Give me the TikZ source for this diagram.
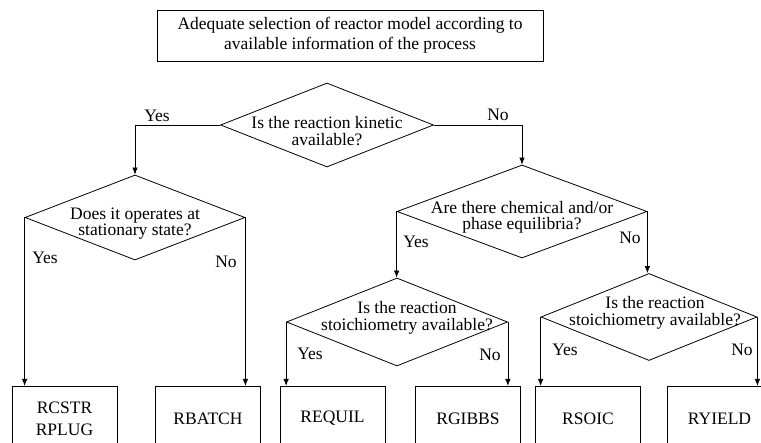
\documentclass[tikz,border=0pt]{standalone}
\usepackage{fontspec}
\setmainfont{Liberation Serif}
\usetikzlibrary{shapes.geometric,arrows.meta}
\begin{document}
\begin{tikzpicture}[x=1pt,y=-1pt,
  every node/.style={font=\fontsize{17.5}{21}\selectfont, text=black},
  topbox/.style={draw, line width=0.8pt, minimum width=386pt, minimum height=51pt, inner sep=0pt, align=center, font=\fontsize{17.5}{20}\selectfont},
  rbox/.style={draw, line width=0.8pt, minimum width=105pt, minimum height=64pt, anchor=north, inner sep=0pt, align=center, font=\fontsize{17.5}{22}\selectfont},
  dia/.style={draw, diamond, line width=0.8pt, inner sep=0pt},
  dtxt/.style={font=\fontsize{17.5}{16.5}\selectfont, align=center, inner sep=0pt},
  arr/.style={line width=0.8pt, -{Latex[length=7pt,width=5.5pt]}},
  lab/.style={inner sep=0pt}]
\useasboundingbox (0,0) rectangle (761,443);
\clip (0,0) rectangle (761,443);
\fill[white] (0,0) rectangle (761,443);

% title box
\node[topbox] (top) at (350,35.5) {Adequate selection of reactor model according to\\available information of the\ process};

% diamonds
\node[dia, minimum width=213pt, minimum height=84pt,
  label={[dtxt,yshift=-6pt]center:Is the reaction kinetic\\available?}] (d1) at (327,125) {};
\node[dia, minimum width=220pt, minimum height=85pt,
  label={[dtxt,yshift=-6pt]center:Does it operates at\\stationary state?}] (d2) at (135,217.5) {};
\node[dia, minimum width=250pt, minimum height=93pt,
  label={[dtxt,yshift=-6pt]center:Are there chemical and/or\\phase equilibria?}] (d3) at (522,211.5) {};
\node[dia, minimum width=221pt, minimum height=88pt,
  label={[dtxt,yshift=4pt,xshift=10pt]center:Is the reaction\\stoichiometry available?}] (d4) at (397,322) {};
\node[dia, minimum width=216pt, minimum height=87pt,
  label={[dtxt,yshift=4pt,xshift=6pt]center:Is the reaction\\stoichiometry available?}] (d5) at (649,317) {};

% result boxes
\node[rbox] (b1) at (64.5,386) {RCSTR\\RPLUG};
\node[rbox] (b2) at (208,386) {RBATCH};
\node[rbox] (b3) at (332.5,386) {REQUIL};
\node[rbox] (b4) at (468,386) {RGIBBS};
\node[rbox] (b5) at (588,386) {RSOIC};
\node[rbox] (b6) at (719.5,386) {RYIELD};

% connectors
\draw[arr] (d1.west) -| (d2.north);
\draw[arr] (d1.east) -| (d3.north);
\draw[arr] (d2.west) -- (d2.west |- b1.north);
\draw[arr] (d2.east) -- (d2.east |- b2.north);
\draw[arr] (d3.west) -- (d3.west |- d4.north);
\draw[arr] (d3.east) -- (d3.east |- d5.north);
\draw[arr] (d4.west) -- (d4.west |- b3.north);
\draw[arr] (d4.east) -- (d4.east |- b4.north);
\draw[arr] (d5.west) -- (d5.west |- b5.north);
\draw[arr] (d5.east) -- (d5.east |- b6.north);

% labels
\node[lab] (y1) at (157,116) {Yes};
\node[lab] (n1) at (498,115) {No};
\node[lab] (y2) at (45,258) {Yes};
\node[lab] (n2) at (226,262) {No};
\node[lab] (y3) at (416,242) {Yes};
\node[lab] (n3) at (630,238) {No};
\node[lab] (y4) at (310,354) {Yes};
\node[lab] (n4) at (490,355) {No};
\node[lab] (y5) at (565,350) {Yes};
\node[lab] (n5) at (742,350) {No};
\end{tikzpicture}
\end{document}
